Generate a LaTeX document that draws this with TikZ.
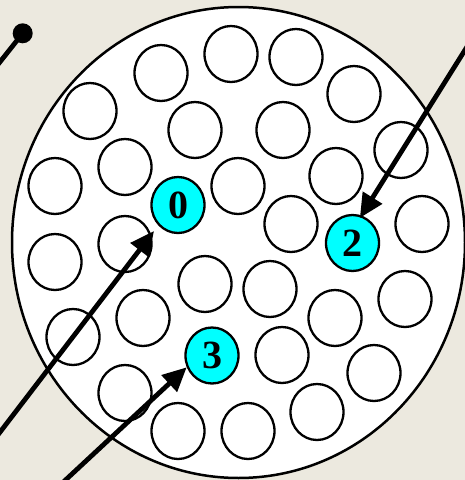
\documentclass[tikz,border=0pt]{standalone}
\usepackage{fontspec}
\setmainfont{Liberation Serif}
\usetikzlibrary{shapes.geometric,arrows.meta}
\definecolor{bgbeige}{RGB}{236,233,223}
\definecolor{cyanfill}{RGB}{0,255,255}
\begin{document}
\begin{tikzpicture}[x=1pt,y=-1pt,
  pore/.style={ellipse,draw=black,line width=2.3pt,fill=white,minimum width=53pt,minimum height=56pt,inner sep=0pt},
  hit/.style={pore,fill=cyanfill,font=\fontsize{40}{40}\selectfont\bfseries},
  ray/.style={line width=4.8pt,-{Triangle[length=24pt,width=22pt]}},
  track/.style={line width=4.8pt}]
\fill[bgbeige] (0,0) rectangle (465,480);
\useasboundingbox (0,0) rectangle (465,480);
\clip (0,0) rectangle (465,480);
\node[ellipse,draw=black,line width=2.5pt,fill=white,minimum width=453pt,minimum height=471pt,inner sep=0pt] (big) at (238.5,242.5) {};
% white pores
\foreach \n/\x/\y in {a/231/54,b/296/57,c/161/73,d/354/94,e/90/111,f/195/130,g/283/130,h/401/150,i/125/167,j/336/176,k/55/186,l/238/186,m/291/224,n/422/224,o/125/244,p/55/262,q/205/284,r/270/289,s/405/299,t/143/318,u/335/318,v/73/337,w/282/355,xx/374/373,y/125/393,z/317/412,aa/178/431,bb/248/431}
  \node[pore] (p\n) at (\x,\y) {};
% highlighted pores
\node[hit] (c0) at (178,205) {0};
\node[hit] (c2) at (352.5,243) {2};
\node[hit] (c3) at (212,355.5) {3};
% dot
\node[circle,fill=black,minimum size=20pt,inner sep=0pt] (dot) at (22.7,33.3) {};
\coordinate (sdot) at (-8,72);
\coordinate (s0) at (-6,440);
\coordinate (s3) at (58,487);
\coordinate (s2) at (470,42);
\draw[track] (sdot) -- (dot.center);
\draw[ray,shorten >=7pt] (s0) -- (c0.226);
\draw[ray] (s3) -- (c3.205);
\draw[ray,shorten >=-3pt] (s2) -- (c2.72);
\end{tikzpicture}
\end{document}
